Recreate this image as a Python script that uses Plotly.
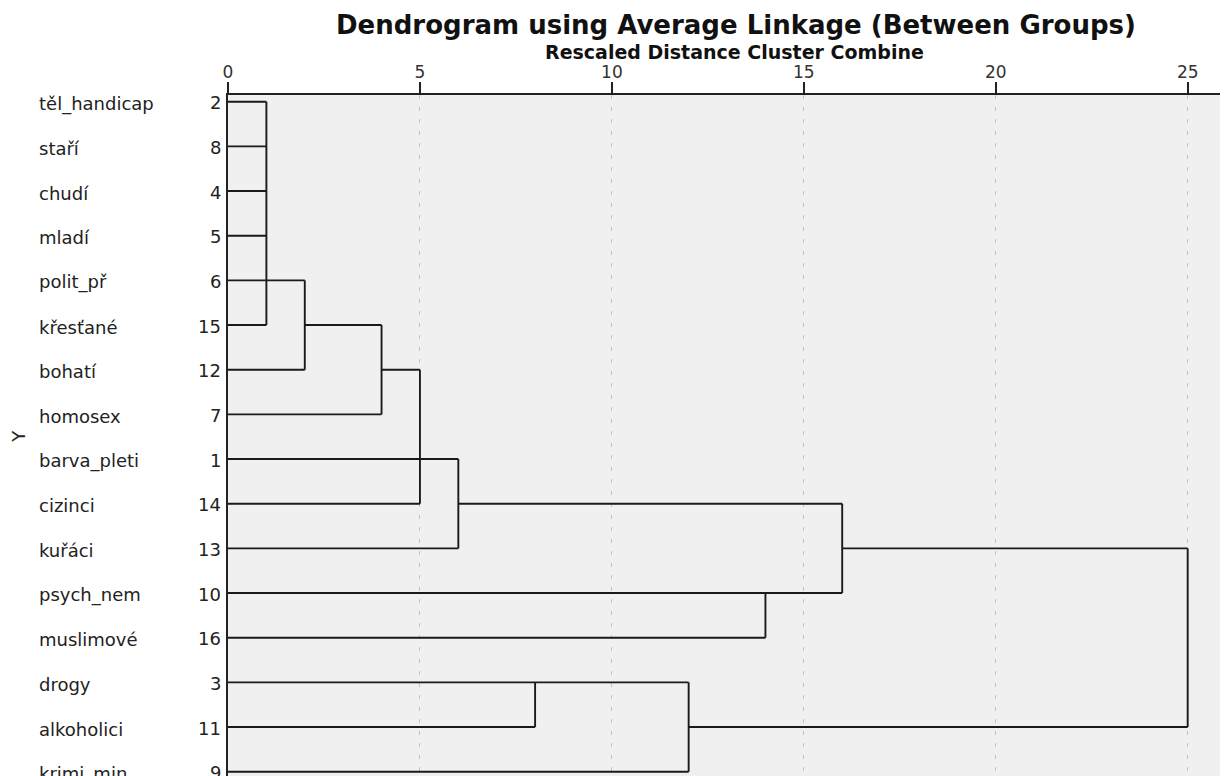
import plotly.graph_objects as go

# ---- data ----
labels = ["těl_handicap", "staří", "chudí", "mladí", "polit_př", "křesťané", "bohatí",
          "homosex", "barva_pleti", "cizinci", "kuřáci", "psych_nem", "muslimové",
          "drogy", "alkoholici", "krimi_min"]
case_ids = ["2", "8", "4", "5", "6", "15", "12", "7", "1", "14", "13", "10", "16", "3", "11", "9"]

# distance at which each leaf's line ends (first joins)
leaf_join = [1, 1, 1, 1, 2, 1, 2, 4, 6, 5, 6, 16, 14, 8, 8, 12]

# extra horizontal link segments: row, from distance, to distance
h_rows = [5, 6, 9, 10, 13, 14]
h_from = [2, 4, 6, 16, 8, 12]
h_to = [4, 5, 16, 25, 12, 25]

# vertical link segments: distance, first row, last row
v_dist = [1, 2, 4, 5, 6, 16, 14, 8, 12, 25]
v_r0 = [0, 4, 5, 6, 8, 9, 11, 13, 13, 10]
v_r1 = [5, 6, 7, 9, 10, 11, 12, 14, 15, 14]

x_ticks = [0, 5, 10, 15, 20, 25]

FONT = "DejaVu Sans"
LINE = "#1a1a1a"

xs, ys = [], []
for r, d in enumerate(leaf_join):
    xs += [0, d, None]
    ys += [r, r, None]
for r, a, b in zip(h_rows, h_from, h_to):
    xs += [a, b, None]
    ys += [r, r, None]
for d, a, b in zip(v_dist, v_r0, v_r1):
    xs += [d, d, None]
    ys += [a, b, None]

fig = go.Figure()
fig.add_trace(go.Scatter(x=xs, y=ys, mode="lines",
                         line=dict(color=LINE, width=1.9),
                         hoverinfo="skip", showlegend=False))

OFF = 8  # page body margin
FW, FH = 1228 - OFF, 776 - OFF
L, T = 228 - OFF, 95 - OFF
W, H = FW - L, FH - T
n = len(labels)


def px(page_x):
    return (page_x - OFF - L) / W


def py(page_y):
    return 1 + (T - (page_y - OFF)) / H


annotations = []
for i, (lab, cid) in enumerate(zip(labels, case_ids)):
    annotations.append(dict(text=lab, x=px(37), xref="paper", xanchor="left",
                            y=i, yref="y", yanchor="middle", yshift=-2, showarrow=False,
                            font=dict(family=FONT, size=18, color="#222222")))
    annotations.append(dict(text=cid, x=px(223), xref="paper", xanchor="right",
                            y=i, yref="y", yanchor="middle", yshift=-1, showarrow=False,
                            font=dict(family=FONT, size=18, color="#222222")))

annotations.append(dict(text="Y", textangle=-90, x=px(19), xref="paper", xanchor="center",
                        y=(n - 1) / 2, yref="y", yanchor="middle", showarrow=False,
                        font=dict(family=FONT, size=18, color="#222222")))
annotations.append(dict(text="<b>Rescaled Distance Cluster Combine</b>",
                        x=px(734), xref="paper", xanchor="center",
                        y=py(52), yref="paper", yanchor="middle", showarrow=False,
                        font=dict(family=FONT, size=19, color="#111111")))
annotations.append(dict(text="<b>Dendrogram using Average Linkage (Between Groups)</b>",
                        x=px(736), xref="paper", xanchor="center",
                        y=py(25), yref="paper", yanchor="middle", showarrow=False,
                        font=dict(family=FONT, size=26, color="#111111")))

fig.update_layout(
    width=FW, height=FH,
    margin=dict(l=L, r=0, t=T, b=0, pad=0),
    paper_bgcolor="white", plot_bgcolor="#f0f0f0",
    annotations=annotations,
    xaxis=dict(side="top", range=[0, 26.05], tickmode="array", tickvals=x_ticks,
               ticktext=[str(v) for v in x_ticks],
               showline=True, linecolor="#222222", linewidth=2,
               ticks="outside", ticklen=11, tickwidth=2, tickcolor="#222222",
               ticklabelstandoff=-3,
               tickfont=dict(family=FONT, size=17, color="#333333"),
               showgrid=True, gridcolor="#c4c4c4", gridwidth=1.3, griddash="4px,8px",
               zeroline=False, fixedrange=True),
    yaxis=dict(range=[n - 1 + 0.096, -0.15], showticklabels=False, ticks="",
               showline=True, linecolor="#222222", linewidth=2,
               showgrid=False, zeroline=False, fixedrange=True),
)

fig.write_html("out.html")
